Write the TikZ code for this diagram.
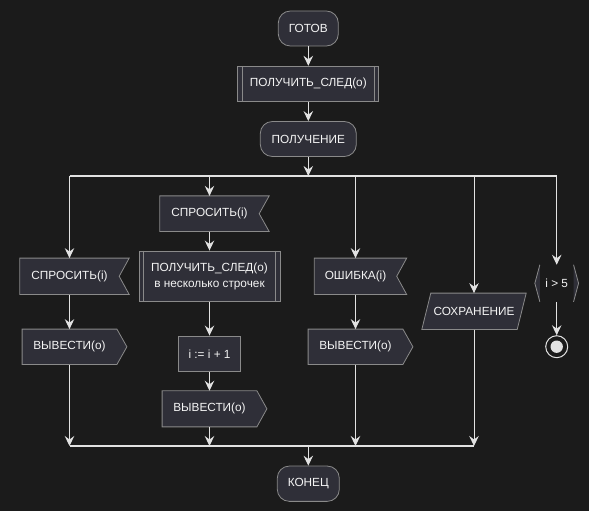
\documentclass[tikz,border=0pt]{standalone}
\usepackage{fontspec}
\setmainfont{Liberation Sans}
\usetikzlibrary{arrows.meta,backgrounds,calc}
\definecolor{bg}{HTML}{1B1B1B}
\definecolor{nodefill}{HTML}{2F2F38}
\definecolor{bord}{HTML}{8A8A8A}
\definecolor{ln}{HTML}{E2E2E2}
\definecolor{txt}{HTML}{F4F4F4}
\begin{document}
\begin{tikzpicture}[x=1pt,y=-1pt,
  lbl/.style={inner sep=0pt, text=txt, font=\fontsize{11.8}{16.3}\selectfont, align=center},
  rbox/.style={lbl, draw=bord, fill=nodefill, line width=0.8pt, rounded corners=12pt},
  bbox/.style={lbl, draw=bord, fill=nodefill, line width=0.8pt},
  sbox/.style={bbox},
  tbox/.style={lbl},
  outline/.style={draw=bord, fill=nodefill, line width=0.8pt},
  arr/.style={draw=ln, line width=1pt, -{Stealth[length=10pt,width=9.5pt,inset=3.5pt]}},
  barline/.style={draw=ln, line width=1.6pt}]
\useasboundingbox (0,0) rectangle (589,511);
% nodes
\node[rbox, minimum width=60pt, minimum height=35pt] (gotov) at (308.3,28.5) {ГОТОВ};
\node[sbox, minimum width=141pt, minimum height=35pt] (sub1) at (308.3,83.7) {ПОЛУЧИТЬ\_СЛЕД(o)};
\node[rbox, minimum width=96pt, minimum height=35pt] (poluch) at (308.3,139) {ПОЛУЧЕНИЕ};
\node[tbox, minimum width=99pt, minimum height=36pt] (ask1) at (69.5,276.3) {СПРОСИТЬ(i)};
\node[tbox, minimum width=94.4pt, minimum height=35pt] (out1) at (69.5,346.8) {ВЫВЕСТИ(o)};
\node[tbox, minimum width=99pt, minimum height=35.3pt] (ask2) at (209.5,213.7) {СПРОСИТЬ(i)};
\node[sbox, minimum width=141pt, minimum height=50.7pt] (sub2) at (209.5,276.3) {ПОЛУЧИТЬ\_СЛЕД(o)\\в несколько строчек};
\node[bbox, minimum width=62.4pt, minimum height=35.7pt] (inc) at (209.5,353.8) {i := i + 1};
\node[tbox, minimum width=94.4pt, minimum height=35.7pt] (out2) at (209.5,408.8) {ВЫВЕСТИ(o)};
\node[tbox, minimum width=82pt, minimum height=36pt] (err) at (355.5,276.3) {ОШИБКА(i)};
\node[tbox, minimum width=94.4pt, minimum height=35pt] (out3) at (355.5,346.8) {ВЫВЕСТИ(o)};
\node[tbox, minimum width=95pt, minimum height=36pt] (save) at (474,311.3) {СОХРАНЕНИЕ};
\node[tbox, minimum width=33.3pt, minimum height=36.7pt] (cond) at (556.7,283.3) {i > 5};
\node[circle, draw=ln, line width=1pt, minimum size=22pt, inner sep=0pt] (endn) at (556.7,346.7) {};
\fill[ln] (endn.center) circle (6.2pt);
\node[rbox, minimum width=62pt, minimum height=35.3pt] (konec) at (308.3,483.7) {КОНЕЦ};
\coordinate (tb) at (308.3,176);
\coordinate (bb) at (308.3,446);
% outlines
\begin{scope}[on background layer]
\fill[bg] (0,0) rectangle (589,511);
\foreach \n in {ask1,ask2,err}{
  \path[outline] (\n.north west) -- ($(\n.north east)+(10,0)$) -- (\n.east) -- ($(\n.south east)+(10,0)$) -- (\n.south west) -- cycle;
}
\foreach \n in {out1,out2,out3}{
  \path[outline] (\n.north west) -- (\n.north east) -- ($(\n.east)+(10,0)$) -- (\n.south east) -- (\n.south west) -- cycle;
}
\path[outline] ($(save.north west)+(4.5,0)$) -- ($(save.north east)+(4.5,0)$) -- ($(save.south east)+(-4.5,0)$) -- ($(save.south west)+(-4.5,0)$) -- cycle;
\fill[nodefill] (cond.north west) -- ($(cond.west)+(-5,0)$) -- (cond.south west) -- cycle;
\fill[nodefill] (cond.north east) -- ($(cond.east)+(5,0)$) -- (cond.south east) -- cycle;
\draw[bord, line width=0.8pt] (cond.north west) -- ($(cond.west)+(-5,0)$) -- (cond.south west);
\draw[bord, line width=0.8pt] (cond.north east) -- ($(cond.east)+(5,0)$) -- (cond.south east);
\end{scope}
% sub-process inner lines
\foreach \n in {sub1,sub2}{
  \draw[bord, line width=0.8pt] ($(\n.north west)+(5,0)$) -- ($(\n.south west)+(5,0)$);
  \draw[bord, line width=0.8pt] ($(\n.north east)+(-5,0)$) -- ($(\n.south east)+(-5,0)$);
}
% connectors
\draw[arr] (gotov) -- (sub1);
\draw[arr] (sub1) -- (poluch);
\draw[arr] (poluch) -- (tb);
\draw[barline] (tb -| ask1) -- (tb -| cond);
\draw[arr] (tb -| ask1) -- (ask1);
\draw[arr] (ask1) -- (out1);
\draw[arr] (out1) -- (bb -| out1);
\draw[arr] (tb -| ask2) -- (ask2);
\draw[arr] (ask2) -- (sub2);
\draw[arr] (sub2) -- (inc);
\draw[arr] (inc) -- (out2);
\draw[arr] (out2) -- (bb -| out2);
\draw[arr] (tb -| err) -- (err);
\draw[arr] (err) -- (out3);
\draw[arr] (out3) -- (bb -| out3);
\draw[arr] (tb -| save) -- (save);
\draw[arr] (save) -- (bb -| save);
\draw[arr] (tb -| cond) -- (cond);
\draw[arr] (cond) -- (endn);
\draw[barline] (bb -| out1) -- (bb -| save);
\draw[arr] (bb) -- (konec);
\end{tikzpicture}
\end{document}
